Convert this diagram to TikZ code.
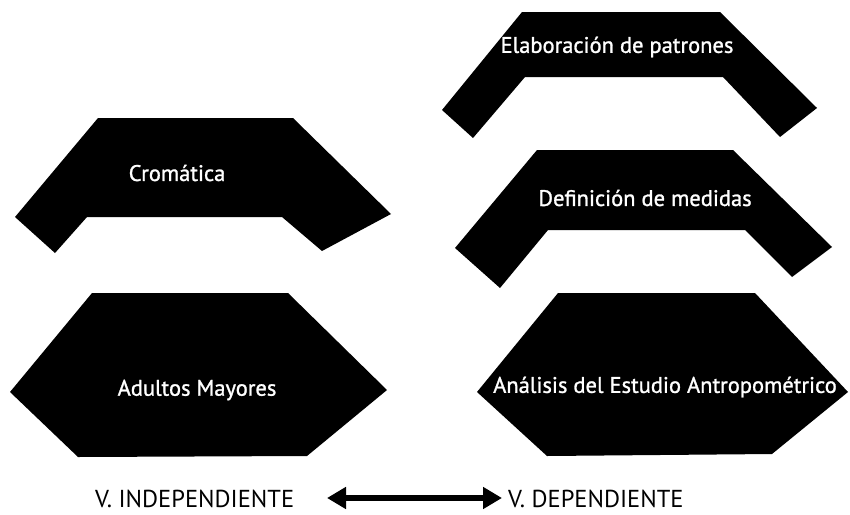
\documentclass[tikz,border=0pt]{standalone}
\usepackage{fontspec}
\setmainfont{PT Sans}
\usetikzlibrary{arrows.meta}
\begin{document}
\begin{tikzpicture}[x=1pt,y=-1pt,
  blk/.style={fill=black,draw=none},
  boxtext/.style={text=white,font=\fontsize{22.5}{26}\selectfont\addfontfeature{FakeBold=1.2},inner sep=0pt},
  vartext/.style={text=black,font=\fontsize{24.5}{28}\selectfont,inner sep=0pt,anchor=base west},
  biarrow/.style={line width=5.5pt,{Triangle[length=19pt,width=21pt]}-{Triangle[length=19pt,width=21pt]}}]
\useasboundingbox[fill=white] (0,0) rectangle (850,514);
% shapes
\fill[blk] (98,118) -- (293,118) -- (391,214) -- (322,251) -- (282,217) -- (87,217) -- (55,253) -- (15,217) -- cycle;
\fill[blk] (92,293) -- (288,293) -- (387,390) -- (307,456) -- (78,457) -- (10,392) -- cycle;
\fill[blk] (522,12) -- (720,12) -- (817,108) -- (780,137) -- (723,77) -- (525,77) -- (473,138) -- (442,110) -- cycle;
\fill[blk] (537,150) -- (733,150) -- (832,247) -- (792,277) -- (745,230) -- (548,230) -- (500,288) -- (455,248) -- cycle;
\fill[blk] (558,293) -- (755,293) -- (848,392) -- (772,454) -- (547,456) -- (477,392) -- cycle;
% texts
\node[boxtext] (crom) at (177,173) {Cromática};
\node[boxtext] (adul) at (197,390) {Adultos Mayores};
\node[boxtext] (elab) at (617,47) {Elaboración de patrones};
\node[boxtext] (defi) at (645,198) {Definición de medidas};
\node[boxtext] (anal) at (665,387) {Análisis del Estudio Antropométrico};
\node[vartext] (ind) at (95,507) {V. INDEPENDIENTE};
\node[vartext] (dep) at (508,507) {V. DEPENDIENTE};
\coordinate (al) at (327,498);
\coordinate (ar) at (502,498);
\draw[biarrow] (al) -- (ar);
\end{tikzpicture}
\end{document}
